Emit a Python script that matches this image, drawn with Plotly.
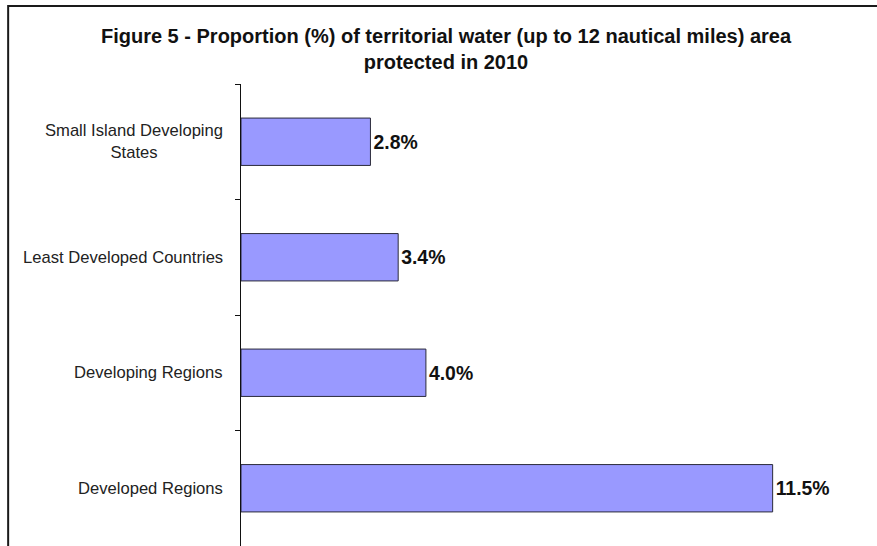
import plotly.graph_objects as go

categories = ["Developed Regions", "Developing Regions", "Least Developed Countries",
              "Small Island Developing States"]
tick_labels = ["Developed Regions", "Developing Regions", "Least Developed Countries",
               "Small Island Developing<br>States"]
values = [11.5, 4.0, 3.4, 2.8]
value_labels = ["11.5%", "4.0%", "3.4%", "2.8%"]

W, H = 877, 546
L, R = 241, 842.4
T, B = 84, 546
pw, ph = R - L, B - T

fig = go.Figure()
fig.add_trace(go.Bar(
    y=categories, x=values, orientation="h",
    marker=dict(color="#9999FF", line=dict(color="#2b2b3a", width=1)),
    text=value_labels, textposition="outside", cliponaxis=False,
    textfont=dict(family="Liberation Sans, Arial", size=19.4, color="#111111"),
    texttemplate="<b>%{text}</b>", width=0.41,
))

for c, lab in zip(categories, tick_labels):
    fig.add_annotation(x=(225 - L) / pw, xref="paper", y=c, yref="y",
                       text=lab, showarrow=False, xanchor="right", align="center",
                       font=dict(family="Liberation Sans, Arial", size=16.6, color="#222222"))

fig.add_shape(type="rect", xref="paper", yref="paper",
              x0=(8 - L) / pw, x1=(890 - L) / pw,
              y0=-(560 - B) / ph, y1=1 + (T - 6) / ph,
              line=dict(color="#1a1a1a", width=2), fillcolor="rgba(0,0,0,0)", layer="above")

fig.update_layout(
    width=W, height=H,
    margin=dict(l=L, r=W - R, t=T, b=H - B, pad=0),
    paper_bgcolor="white", plot_bgcolor="white",
    showlegend=False,
    title=dict(text="<b>Figure 5 - Proportion (%) of territorial water (up to 12 nautical miles) area<br>protected in 2010</b>",
               x=446 / W, xanchor="center", y=1 - 43 / H, yanchor="middle",
               font=dict(family="Liberation Sans, Arial", size=20, color="#111111")),
    xaxis=dict(range=[0, 13], visible=False, showgrid=False, zeroline=False),
    yaxis=dict(type="category", categoryorder="array", categoryarray=categories,
               showticklabels=False, showline=True, linecolor="#111111", linewidth=1,
               ticks="outside", ticklen=5, tickcolor="#111111", tickson="boundaries",
               showgrid=False, zeroline=False),
)

fig.write_html("out.html")
